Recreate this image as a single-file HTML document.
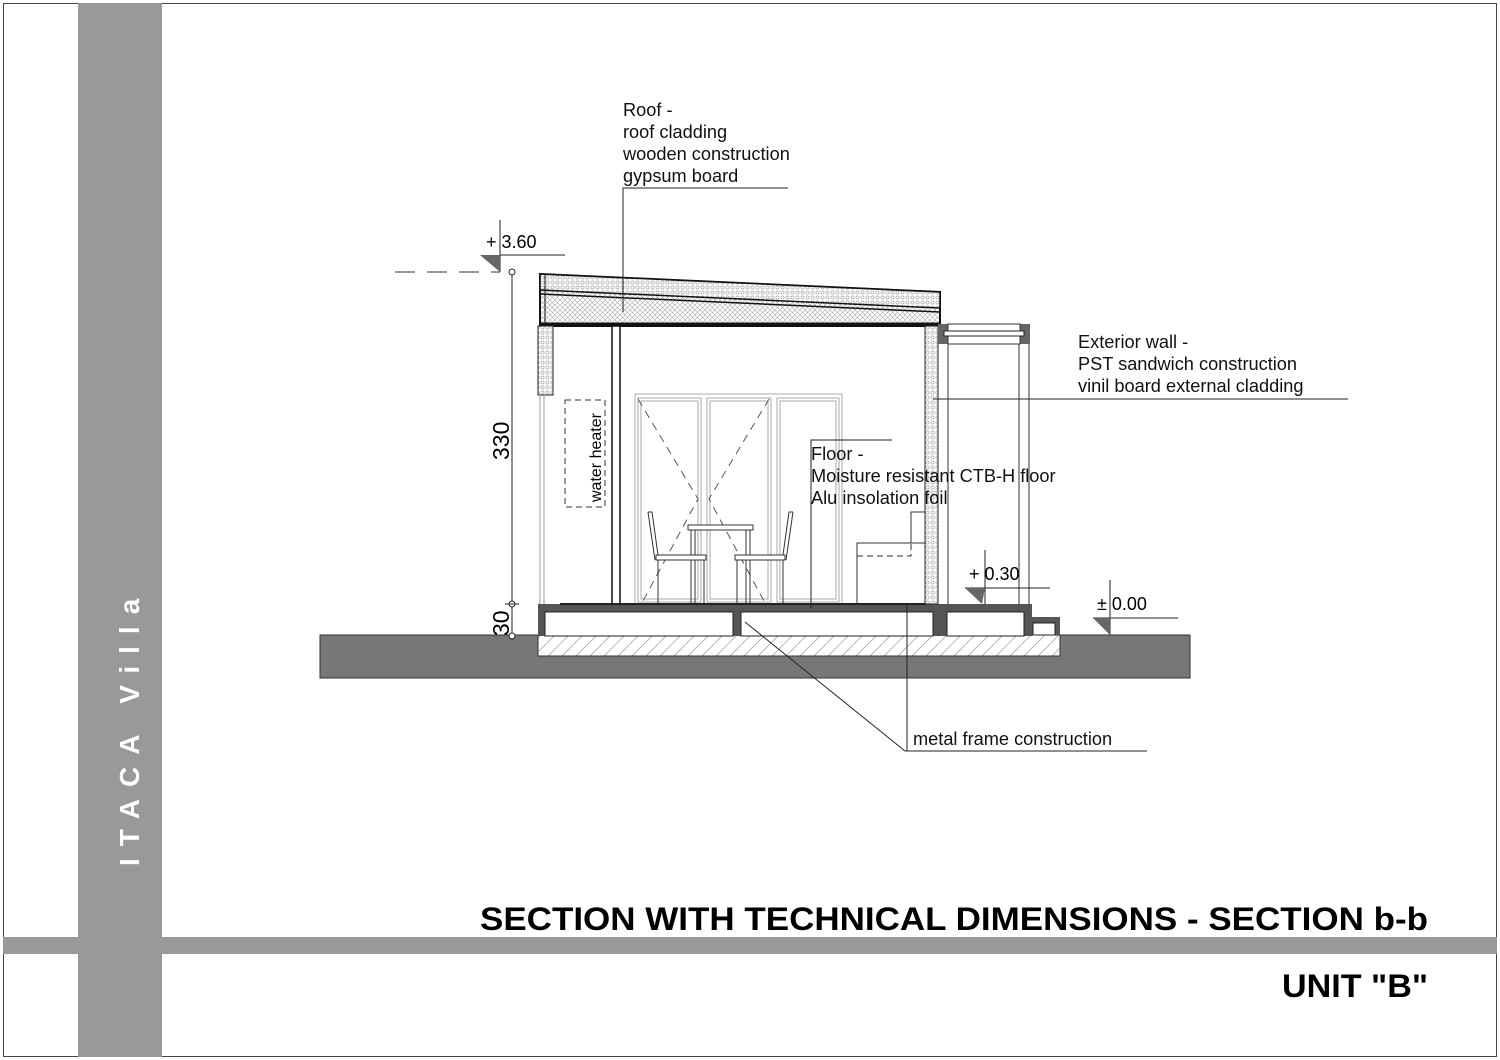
<!DOCTYPE html>
<html><head><meta charset="utf-8"><style>
html,body{margin:0;padding:0;background:#fff}
svg{display:block}
text{font-family:"Liberation Sans",sans-serif}
</style></head><body>
<svg width="1500" height="1060" viewBox="0 0 1500 1060" xmlns="http://www.w3.org/2000/svg">
<defs>
<pattern id="dots" width="5" height="5" patternUnits="userSpaceOnUse"><rect width="5" height="5" fill="#fff"/><circle cx="2.5" cy="2.5" r="1.6" fill="none" stroke="#999" stroke-width="0.6"/></pattern>
<pattern id="xh" width="10" height="10" patternUnits="userSpaceOnUse"><rect width="10" height="10" fill="#fff"/><path d="M0 5L5 0L10 5L5 10Z M0 0L10 10 M10 0L0 10" fill="none" stroke="#aaa" stroke-width="0.6"/></pattern>
<pattern id="diag" width="14" height="14" patternUnits="userSpaceOnUse"><rect width="14" height="14" fill="#fff"/><path d="M0 14L14 0" stroke="#999" stroke-width="0.7"/></pattern>
</defs>
<rect x="0" y="0" width="1500" height="1060" fill="#fff"/>
<rect x="3.5" y="3.5" width="1493" height="1053" fill="none" stroke="#444" stroke-width="1"/>
<rect x="3" y="937" width="1494" height="17" fill="#999"/>
<rect x="78" y="3" width="84" height="1054" fill="#999"/>
<text transform="translate(139,866) rotate(-90)" font-size="28" font-weight="bold" fill="#fff" letter-spacing="12">ITACA Villa</text>

<rect x="320" y="635" width="870" height="43" fill="#777" stroke="#333"/>
<rect x="538" y="635" width="522" height="21" fill="url(#diag)" stroke="#333"/>

<rect x="538" y="604" width="402" height="32" fill="#555"/>
<rect x="545" y="612" width="188" height="24" fill="#fff" stroke="#222"/>
<rect x="741" y="612" width="192" height="24" fill="#fff" stroke="#222"/>
<rect x="940" y="604" width="92" height="32" fill="#555"/>
<rect x="947" y="612" width="77" height="24" fill="#fff" stroke="#222"/>
<rect x="1030" y="617" width="30" height="18" fill="#555"/>
<rect x="1033" y="623" width="22" height="12" fill="#fff" stroke="#222"/>

<polygon points="540,274 940,292 940,326 540,326" fill="url(#xh)" stroke="#111" stroke-width="2"/>
<polygon points="540,274 940,292 940,308 540,290" fill="url(#dots)" stroke="#111" stroke-width="1.5"/>
<line x1="540" y1="294" x2="940" y2="312" stroke="#111" stroke-width="1.5"/>
<line x1="540" y1="324" x2="940" y2="324" stroke="#111" stroke-width="3"/>
<line x1="545" y1="274" x2="545" y2="326" stroke="#111" stroke-width="1"/>

<rect x="538" y="326" width="15" height="69" fill="url(#dots)" stroke="#222"/>
<line x1="540" y1="395" x2="540" y2="604" stroke="#999"/>
<line x1="544" y1="395" x2="544" y2="604" stroke="#999"/>
<rect x="612" y="326" width="8" height="278" fill="#fff" stroke="#111" stroke-width="1.5"/>
<rect x="565" y="400" width="40" height="107" fill="none" stroke="#333" stroke-dasharray="6,4"/>
<text transform="translate(601,502) rotate(-90)" font-size="16">water heater</text>

<rect x="925" y="326" width="13" height="278" fill="url(#dots)" stroke="#222"/>
<rect x="938" y="324" width="92" height="20" fill="#666"/>
<rect x="948" y="324" width="72" height="20" fill="#fff" stroke="#333"/>
<rect x="944" y="331" width="80" height="5" fill="#fff" stroke="#222"/>
<line x1="948" y1="344" x2="948" y2="604" stroke="#333"/>
<line x1="1019" y1="344" x2="1019" y2="604" stroke="#333"/>
<line x1="1029" y1="344" x2="1029" y2="604" stroke="#333"/>

<g fill="none" stroke="#aaa">
<rect x="635" y="394" width="207" height="210"/>
<rect x="638" y="398" width="63" height="204"/><rect x="641" y="401" width="57" height="198"/>
<rect x="707" y="398" width="64" height="204"/><rect x="710" y="401" width="58" height="198"/>
<rect x="777" y="398" width="62" height="204"/><rect x="780" y="401" width="56" height="198"/>
</g>
<g stroke="#555" stroke-dasharray="8,6" fill="none">
<path d="M638 399L698 499L643 601"/><path d="M769 399L709 499L764 601"/>
</g>
<g fill="#fff" stroke="#333">
<rect x="688" y="525" width="65" height="5"/>
<line x1="691" y1="530" x2="691" y2="604"/><line x1="695" y1="530" x2="695" y2="604"/>
<line x1="746" y1="530" x2="746" y2="604"/><line x1="750" y1="530" x2="750" y2="604"/>
<path d="M648 512L652 512L658 555L704 555L704 604M658 560L658 604M648 512L655 560" fill="none"/>
<path d="M793 512L789 512L783 555L737 555L737 604M783 560L783 604M793 512L786 560" fill="none"/>
<rect x="656" y="555" width="50" height="5"/><rect x="735" y="555" width="50" height="5"/>
</g>
<path d="M857 604L857 543L925 543" fill="none" stroke="#333"/>
<path d="M911 543L911 512L925 512" fill="none" stroke="#333"/>
<path d="M857 556L911 556L911 543" fill="none" stroke="#333" stroke-dasharray="6,4"/>
<line x1="560" y1="604" x2="925" y2="604" stroke="#222" stroke-width="2"/>

<line x1="512" y1="272" x2="512" y2="640" stroke="#222"/>
<g fill="#fff" stroke="#222"><circle cx="512" cy="272" r="3"/><circle cx="512" cy="604" r="3"/><circle cx="512" cy="636" r="3"/></g>
<line x1="505" y1="604" x2="519" y2="604" stroke="#222"/>
<text transform="translate(509,460) rotate(-90)" font-size="23">330</text>
<text transform="translate(509,636) rotate(-90)" font-size="23">30</text>

<line x1="395" y1="272" x2="500" y2="272" stroke="#333" stroke-dasharray="20,12"/>
<line x1="500" y1="220" x2="500" y2="272" stroke="#222"/>
<line x1="500" y1="255" x2="565" y2="255" stroke="#222"/>
<polygon points="480,255 500,255 500,272" fill="#666"/>
<text x="486" y="248" font-size="18">+ 3.60</text>
<line x1="985" y1="550" x2="985" y2="604" stroke="#222"/>
<line x1="965" y1="588" x2="1050" y2="588" stroke="#222"/>
<polygon points="965,588 985,588 982,604" fill="#666"/>
<text x="969" y="580" font-size="18">+ 0.30</text>
<line x1="1110" y1="580" x2="1110" y2="635" stroke="#222"/>
<line x1="1093" y1="618" x2="1178" y2="618" stroke="#222"/>
<polygon points="1093,618 1110,618 1110,635" fill="#666"/>
<text x="1097" y="610" font-size="18">± 0.00</text>

<g stroke="#222" fill="none">
<path d="M788 188L623 188L623 312"/>
<path d="M1348 399L933 399"/>
<path d="M892 440L811 440L811 608"/>
<path d="M1147 751L905 751L745 622"/>
<line x1="907" y1="751" x2="907" y2="604"/>
</g>
<g font-size="18.2" fill="#111">
<text x="623" y="116">Roof -</text>
<text x="623" y="138">roof cladding</text>
<text x="623" y="160">wooden construction</text>
<text x="623" y="182">gypsum board</text>
<text x="1078" y="348">Exterior wall -</text>
<text x="1078" y="370">PST sandwich construction</text>
<text x="1078" y="392">vinil board external cladding</text>
<text x="811" y="460">Floor -</text>
<text x="811" y="482">Moisture resistant CTB-H floor</text>
<text x="811" y="504">Alu insolation foil</text>
<text x="913" y="745">metal frame construction</text>
</g>

<text x="480" y="930" font-size="32" font-weight="bold" textLength="948" lengthAdjust="spacingAndGlyphs">SECTION WITH TECHNICAL DIMENSIONS - SECTION b-b</text>
<text x="1282" y="997" font-size="32" font-weight="bold" textLength="146" lengthAdjust="spacingAndGlyphs">UNIT "B"</text>
</svg>
</body></html>
